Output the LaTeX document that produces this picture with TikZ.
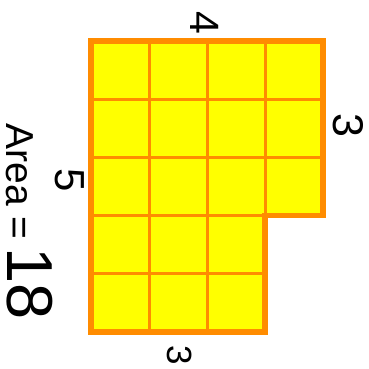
\documentclass[tikz,border=0pt]{standalone}
\usepackage{fontspec}
\setmainfont{Liberation Sans}
\definecolor{fillyellow}{RGB}{255,255,0}
\definecolor{edgeorange}{RGB}{255,140,0}
\tikzset{
  gridline/.style={draw=edgeorange, line width=3pt},
  outline/.style={draw=edgeorange, line width=5.5pt, line join=miter},
  lbl/.style={inner sep=0pt, rotate=-90, text=black},
}
\newcommand{\fs}[1]{\fontsize{#1}{#1}\selectfont}
\begin{document}
\begin{tikzpicture}[x=1pt,y=-1pt]
\useasboundingbox (0,0) rectangle (369,368);
% shape fill
\fill[fillyellow] (91,41) -- (323,41) -- (323,215.6) -- (265,215.6) -- (265,332) -- (91,332) -- cycle;
% inner grid
\draw[gridline] (149,41) -- (149,332);
\draw[gridline] (207,41) -- (207,332);
\draw[gridline] (265,41) -- (265,215.6);
\draw[gridline] (91,99.2) -- (323,99.2);
\draw[gridline] (91,157.4) -- (323,157.4);
\draw[gridline] (91,215.6) -- (265,215.6);
\draw[gridline] (91,273.8) -- (265,273.8);
% outline
\draw[outline] (91,41) -- (323,41) -- (323,215.6) -- (265,215.6) -- (265,332) -- (91,332) -- cycle;
% labels
\node[lbl] (top) at (205,23) {\fs{41}4};
\node[lbl] (right) at (348,125) {\fs{43}3};
\node[lbl] (left) at (70,180) {\fs{42}5};
\node[lbl] (bottom) at (180,355) {\fs{35}3};
\node[lbl] (area) at (19.5,181.5) {\fs{39}Area =};
\node[lbl] (val) at (29.5,284) {\fs{65}18};
\end{tikzpicture}
\end{document}
